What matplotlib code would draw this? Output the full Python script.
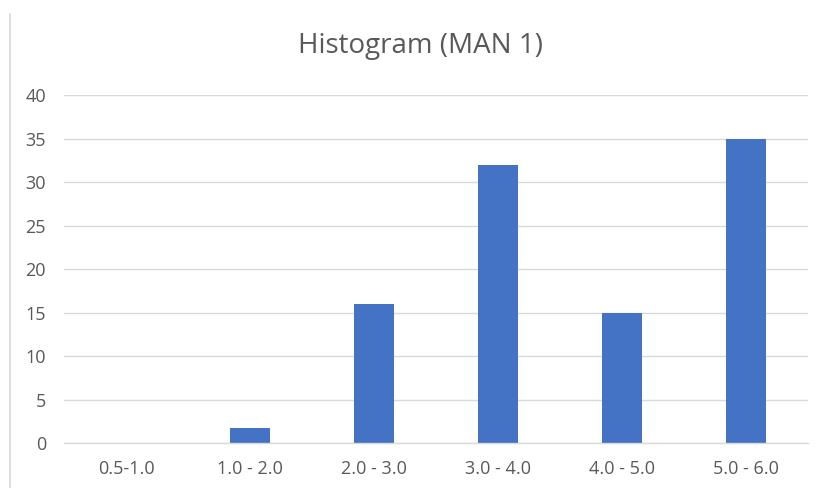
import matplotlib
matplotlib.use("Agg")
import matplotlib.pyplot as plt
from matplotlib.lines import Line2D
import numpy as np

categories = ["0.5-1.0", "1.0 - 2.0", "2.0 - 3.0", "3.0 - 4.0", "4.0 - 5.0", "5.0 - 6.0"]
counts = [0, 1.7, 16, 32, 15, 35]
y_ticks = [0, 5, 10, 15, 20, 25, 30, 35, 40]

BAR_COLOR = "#4472C4"
GRID_COLOR = "#d9d9d9"
TEXT_COLOR = "#595959"

plt.rcParams["font.family"] = ["Open Sans", "DejaVu Sans"]

fig = plt.figure(figsize=(8.23, 4.88), dpi=100)
ax = fig.add_axes([0.0778, 0.0922, 0.904, 0.7131])

x = np.arange(len(categories))
ax.bar(x, counts, width=0.32, color=BAR_COLOR, zorder=2)

ax.set_xlim(-0.5, len(categories) - 0.5)
ax.set_ylim(0, 40)
ax.set_yticks(y_ticks)
ax.set_xticks(x)
ax.set_xticklabels(categories)
ax.grid(axis="y", color=GRID_COLOR, linewidth=1.0, zorder=0)
ax.tick_params(axis="both", length=0, labelsize=13, colors=TEXT_COLOR)
ax.tick_params(axis="y", pad=13)
ax.tick_params(axis="x", pad=12)
for side in ["top", "right", "left"]:
    ax.spines[side].set_visible(False)
ax.spines["bottom"].set_color(GRID_COLOR)
ax.spines["bottom"].set_linewidth(1.0)

fig.text(0.5115, 0.905, "Histogram (MAN 1)", ha="center", va="center", fontsize=20, color=TEXT_COLOR)

# thin frame line at the left edge of the chart area
fig.add_artist(Line2D([0.0125, 0.0125], [0.0, 0.972], color=GRID_COLOR, linewidth=1.2))

fig.savefig("out.png", dpi=100)
